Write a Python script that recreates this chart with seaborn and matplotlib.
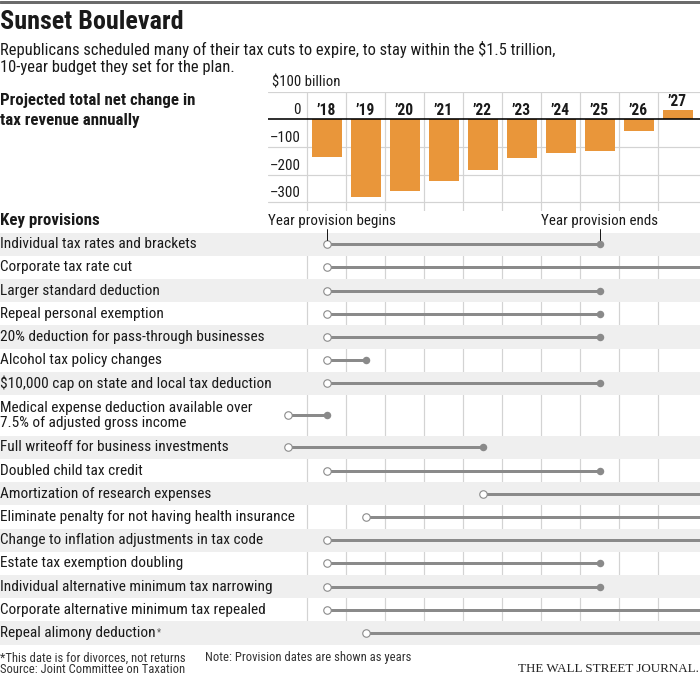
import matplotlib
matplotlib.use("Agg")
import matplotlib.pyplot as plt
import matplotlib.transforms as mtransforms
from matplotlib import font_manager
import seaborn as sns
import pandas as pd

# ---------------- data ----------------
years = [2018, 2019, 2020, 2021, 2022, 2023, 2024, 2025, 2026, 2027]
year_labels = ["\u201918", "\u201919", "\u201920", "\u201921", "\u201922",
               "\u201923", "\u201924", "\u201925", "\u201926", "\u201927"]
revenue_change = [-135.9, -280.0, -258.9, -222.8, -181.4,
                  -139.3, -120.2, -114.3, -41.1, 31.8]
grid_values = [100, -100, -200, -300]
tick_values = [0, -100, -200, -300]
tick_labels = ["0", "\u2013100", "\u2013200", "\u2013300"]

provisions = [
    "Individual tax rates and brackets",
    "Corporate tax rate cut",
    "Larger standard deduction",
    "Repeal personal exemption",
    "20% deduction for pass-through businesses",
    "Alcohol tax policy changes",
    "$10,000 cap on state and local tax deduction",
    "Medical expense deduction available over\n7.5% of adjusted gross income",
    "Full writeoff for business investments",
    "Doubled child tax credit",
    "Amortization of research expenses",
    "Eliminate penalty for not having health insurance",
    "Change to inflation adjustments in tax code",
    "Estate tax exemption doubling",
    "Individual alternative minimum tax narrowing",
    "Corporate alternative minimum tax repealed",
    "Repeal alimony deduction",
]
footnoted = [False] * 16 + [True]
prov_start = [2018, 2018, 2018, 2018, 2018, 2018, 2018, 2017, 2017,
              2018, 2022, 2019, 2018, 2018, 2018, 2018, 2019]
prov_end = [2025, None, 2025, 2025, 2025, 2019, 2025, 2018, 2022,
            2025, None, None, None, 2025, 2025, None, None]

# ---------------- style ----------------
ORANGE = "#E9963A"
SHADE = "#EFEFEF"
GRID = "#D3D3D3"
LINE = "#8A8A8A"
TEXT = "#1A1A1A"

sns.set_theme(style="white")
available = {f.name for f in font_manager.fontManager.ttflist}
FONT = "DejaVu Sans"
for cand in ["Liberation Sans Narrow", "Roboto Condensed", "Liberation Sans", "DejaVu Sans"]:
    if cand in available:
        FONT = cand
        break
plt.rcParams["font.family"] = [FONT, "DejaVu Sans"]
plt.rcParams["text.color"] = TEXT

W, H = 700, 675
fig = plt.figure(figsize=(W / 100, H / 100), dpi=100)
fig.patch.set_facecolor("white")


def fx(px):
    return px / W


def fy(py):
    return 1 - py / H


PX = 72 / 100  # points per pixel

# top rule
fig.add_artist(plt.Line2D([0, 1], [fy(1.5), fy(1.5)], color="#6B6B6B", lw=3 * PX))

# headings
fig.text(0, fy(22), "Sunset Boulevard", fontsize=18.8, fontweight="bold", va="center", ha="left")
fig.text(0, fy(49), "Republicans scheduled many of their tax cuts to expire, to stay within the $1.5 trillion,",
         fontsize=11.9, va="center", ha="left")
fig.text(0, fy(67), "10-year budget they set for the plan.", fontsize=11.9, va="center", ha="left")
fig.text(0, fy(101), "Projected total net change in", fontsize=12.2, fontweight="bold", va="center", ha="left")
fig.text(0, fy(121), "tax revenue annually", fontsize=12.2, fontweight="bold", va="center", ha="left")

# ---------------- bar chart ----------------
x_left_year = 2016.5
col_px = 39.0
x_right_year = x_left_year + (W - 268) / col_px
ax_bar = fig.add_axes([fx(268), fy(210.7), fx(W - 268), (210.7 - 91.6) / H])
df = pd.DataFrame({"year": years, "change": revenue_change})
sns.barplot(data=df, x="year", y="change", native_scale=True, width=30 / 39,
            color=ORANGE, saturation=1, errorbar=None, linewidth=0, ax=ax_bar, zorder=3)
ax_bar.set_xlim(x_left_year, x_right_year)
ax_bar.set_ylim(-330, 100)
ax_bar.set_axis_off()
grid_years = [y + 0.5 for y in range(2017, 2027)]
ax_bar.vlines(grid_years, -330, 100, color=GRID, lw=1.2 * PX, zorder=1)
for gv in grid_values:
    ax_bar.axhline(gv, color=GRID, lw=1.2 * PX, zorder=1)
ax_bar.axhline(0, color="black", lw=1.6 * PX, zorder=4)
up9 = mtransforms.offset_copy(ax_bar.transData, fig=fig, x=0, y=9, units="dots")
for tv, tl in zip(tick_values, tick_labels):
    ax_bar.text(x_left_year + 33 / col_px, tv, tl, transform=up9, ha="right", va="center",
                fontsize=10.8, color=TEXT)
for yr, lab, v in zip(years, year_labels, revenue_change):
    ax_bar.text(yr, max(v, 0), lab, transform=up9, ha="center", va="center",
                fontsize=11.2, fontweight="bold", color=TEXT)
ax_bar.text(x_left_year + 4 / col_px, 100, "$100 billion", transform=up9, ha="left", va="center",
            fontsize=10.6, color=TEXT, clip_on=False)

# ---------------- provisions ----------------
n_lines = [p.count("\n") + 1 for p in provisions]
heights = [1 + 0.76 * (n - 1) for n in n_lines]
tops = [sum(heights[:i]) for i in range(len(heights))]
centers = [t + h / 2 for t, h in zip(tops, heights)]
total = sum(heights)
row_px = 23.2
top_px = 232.5
ax_p = fig.add_axes([0, fy(top_px + total * row_px), 1, total * row_px / H])
ax_p.vlines(grid_years, 0, total, color=GRID, lw=1.2 * PX, zorder=0)
for i, (t, h) in enumerate(zip(tops, heights)):
    if i % 2 == 0:
        ax_p.axhspan(t, t + h, color=SHADE, lw=0, zorder=1)

ends_x = [e if e is not None else x_right_year for e in prov_end]
for s, e, c in zip(prov_start, ends_x, centers):
    ax_p.plot([s, e], [c, c], color=LINE, lw=3 * PX, solid_capstyle="butt", zorder=3)

start_df = pd.DataFrame({"year": prov_start, "row": centers})
end_df = pd.DataFrame({"year": [e for e in prov_end if e is not None],
                       "row": [c for e, c in zip(prov_end, centers) if e is not None]})
sns.scatterplot(data=start_df, x="year", y="row", ax=ax_p, s=(7.5 * PX) ** 2, color="white",
                edgecolor=LINE, linewidth=1.1 * PX, zorder=4, legend=False)
sns.scatterplot(data=end_df, x="year", y="row", ax=ax_p, s=(7.5 * PX) ** 2, color=LINE,
                edgecolor=LINE, linewidth=0, zorder=4, legend=False)
ax_p.set_xlim(x_left_year - 268 / col_px, x_right_year)
ax_p.set_ylim(total, 0)
ax_p.set_axis_off()

lab_tr = mtransforms.blended_transform_factory(ax_p.transAxes, ax_p.transData)
renderer = fig.canvas.get_renderer()
for lab, c, fn in zip(provisions, centers, footnoted):
    t = ax_p.text(0.0005, c, lab, transform=lab_tr, ha="left", va="center", fontsize=11.1,
                  color=TEXT, linespacing=1.05, zorder=5)
    if fn:
        bb = t.get_window_extent(renderer=renderer)
        ax_p.annotate("*", xy=(bb.x1 + 1, bb.y1 - 1), xycoords="figure pixels", fontsize=7,
                      ha="left", va="top", color="#555555")

# annotation above the first row
first_c = centers[0]
marker_gap = 4 / row_px
ax_p.plot([prov_start[0]] * 2, [first_c - marker_gap, -3.5 / row_px], color=TEXT, lw=1 * PX,
          clip_on=False, zorder=5)
ax_p.plot([prov_end[0]] * 2, [first_c - marker_gap, -3.5 / row_px], color=TEXT, lw=1 * PX,
          clip_on=False, zorder=5)
ax_p.text(prov_start[0] + 5 / col_px, -11.5 / row_px, "Year provision begins", ha="center",
          va="center", fontsize=10.8, clip_on=False)
ax_p.text(prov_end[0], -11.5 / row_px, "Year provision ends", ha="center", va="center",
          fontsize=10.8, clip_on=False)
fig.text(0, fy(221), "Key provisions", fontsize=12.2, fontweight="bold", va="center", ha="left")

# footer
fig.text(0, fy(658), "*This date is for divorces, not returns", fontsize=9.1, va="center",
         ha="left", color="#333333")
fig.text(0, fy(669.5), "Source: Joint Committee on Taxation", fontsize=9.1, va="center",
         ha="left", color="#333333")
fig.text(fx(205), fy(658), "Note: Provision dates are shown as years", fontsize=9.1,
         va="center", ha="left", color="#333333")
fig.text(fx(699), fy(669), "THE WALL STREET JOURNAL.", fontsize=9.4, va="center", ha="right",
         family=["Liberation Serif", "DejaVu Serif"], color="#222222")

fig.savefig("out.png", dpi=100)
